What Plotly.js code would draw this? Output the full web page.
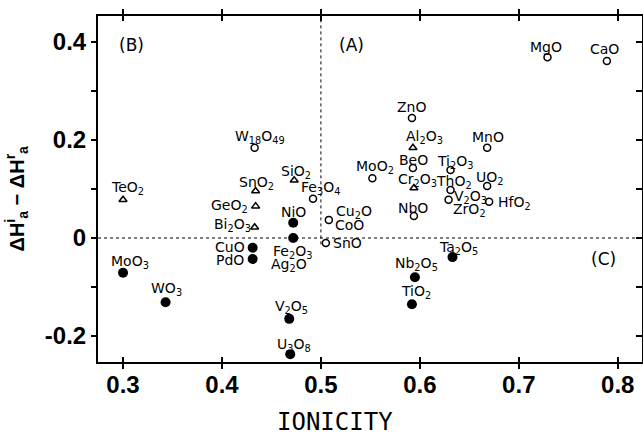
<!DOCTYPE html>
<html>
<head>
<meta charset="utf-8">
<script src="https://cdn.plot.ly/plotly-3.0.1.min.js"></script>
<style>html,body{margin:0;padding:0;background:#fff;}#chart{width:643px;height:435px;}</style>
</head>
<body>
<div id="chart"></div>
<script>
// ---- data ----
const openNames = ["W18O49","Fe3O4","Cu2O","SnO","MgO","CaO","ZnO","BeO","MoO2","MnO","Ti2O3","ThO2","V2O3","UO2","HfO2","NbO"];
const openIonicity = [0.433,0.492,0.508,0.505,0.729,0.789,0.592,0.593,0.552,0.668,0.631,0.631,0.629,0.668,0.670,0.594];
const openDH = [0.184,0.080,0.037,-0.010,0.369,0.361,0.245,0.143,0.122,0.184,0.139,0.098,0.078,0.106,0.074,0.045];

const triNames = ["TeO2","SnO2","GeO2","SiO2","Bi2O3","Al2O3","Cr2O3"];
const triIonicity = [0.300,0.434,0.434,0.473,0.433,0.593,0.594];
const triDH = [0.078,0.096,0.065,0.118,0.022,0.184,0.102];

const fillNames = ["NiO","Fe2O3","CuO","PdO","MoO3","WO3","V2O5","U3O8","Ta2O5","Nb2O5","TiO2"];
const fillIonicity = [0.472,0.472,0.431,0.431,0.300,0.343,0.468,0.469,0.633,0.595,0.592];
const fillDH = [0.031,0.000,-0.020,-0.043,-0.071,-0.131,-0.165,-0.237,-0.039,-0.080,-0.135];

const xTickVals = [0.3,0.4,0.5,0.6,0.7,0.8];
const xTickText = ["0.3","0.4","0.5","0.6","0.7","0.8"];
const yTickVals = [-0.2,0,0.2,0.4];
const yTickText = ["-0.2","0","0.2","0.4"];

// label text (with formula subscripts) per compound, and extra labels sharing a marker
const labelText = {
  W18O49:"W<sub>18</sub>O<sub>49</sub>", Fe3O4:"Fe<sub>3</sub>O<sub>4</sub>", Cu2O:"Cu<sub>2</sub>O", SnO:"SnO",
  MgO:"MgO", CaO:"CaO", ZnO:"ZnO", BeO:"BeO", MoO2:"MoO<sub>2</sub>", MnO:"MnO",
  Ti2O3:"Ti<sub>2</sub>O<sub>3</sub>", ThO2:"ThO<sub>2</sub>", V2O3:"V<sub>2</sub>O<sub>3</sub>", UO2:"UO<sub>2</sub>",
  HfO2:"HfO<sub>2</sub>", NbO:"NbO",
  TeO2:"TeO<sub>2</sub>", SnO2:"SnO<sub>2</sub>", GeO2:"GeO<sub>2</sub>", SiO2:"SiO<sub>2</sub>",
  Bi2O3:"Bi<sub>2</sub>O<sub>3</sub>", Al2O3:"Al<sub>2</sub>O<sub>3</sub>", Cr2O3:"Cr<sub>2</sub>O<sub>3</sub>",
  NiO:"NiO", Fe2O3:"Fe<sub>2</sub>O<sub>3</sub>", CuO:"CuO", PdO:"PdO", MoO3:"MoO<sub>3</sub>",
  WO3:"WO<sub>3</sub>", V2O5:"V<sub>2</sub>O<sub>5</sub>", U3O8:"U<sub>3</sub>O<sub>8</sub>",
  Ta2O5:"Ta<sub>2</sub>O<sub>5</sub>", Nb2O5:"Nb<sub>2</sub>O<sub>5</sub>", TiO2:"TiO<sub>2</sub>"
};
const extraLabels = [["Ag2O","Fe2O3","Ag<sub>2</sub>O"],["CoO","Cu2O","CoO"],["ZrO2","V2O3","ZrO<sub>2</sub>"]];

// ---- label placement (pixel offsets from marker) ----
const labelOffset = {
  W18O49:[5,11], Fe3O4:[7,11], Cu2O:[25,8], SnO:[22,0], MgO:[-2,10], CaO:[-2,12], ZnO:[0,11],
  BeO:[1,8], MoO2:[3,11], MnO:[1,11], Ti2O3:[5,8], ThO2:[3,8], V2O3:[22,3], UO2:[3,8], HfO2:[25,-1],
  NbO:[-1,8], TeO2:[4,12], SnO2:[1,8], GeO2:[-26,0], SiO2:[2,8], Bi2O3:[-22,2], Al2O3:[12,11],
  Cr2O3:[4,8], NiO:[0,11], Fe2O3:[-1,-14], CuO:[-23,1], PdO:[-23,-1], MoO3:[7,11], WO3:[1,13],
  V2O5:[2,12], U3O8:[4,9], Ta2O5:[6,9], Nb2O5:[2,13], TiO2:[4,12],
  Ag2O:[-4,-27], CoO:[21,-5], ZrO2:[21,-10]
};

const pos = {};
openNames.forEach((n,i)=>pos[n]=[openIonicity[i],openDH[i]]);
triNames.forEach((n,i)=>pos[n]=[triIonicity[i],triDH[i]]);
fillNames.forEach((n,i)=>pos[n]=[fillIonicity[i],fillDH[i]]);

const labelFont = {family:"DejaVu Sans, sans-serif", size:14, color:"#000"};
const annotations = [];
Object.keys(labelText).forEach(n=>{
  const o = labelOffset[n];
  annotations.push({x:pos[n][0], y:pos[n][1], xref:"x", yref:"y", text:labelText[n], showarrow:false,
    xshift:o[0], yshift:o[1], font:labelFont, xanchor:"center", yanchor:"middle"});
});
extraLabels.forEach(e=>{
  const o = labelOffset[e[0]];
  annotations.push({x:pos[e[1]][0], y:pos[e[1]][1], xref:"x", yref:"y", text:e[2], showarrow:false,
    xshift:o[0], yshift:o[1], font:labelFont, xanchor:"center", yanchor:"middle"});
});

// region labels
const regionFont = {family:"DejaVu Sans, sans-serif", size:17, color:"#000"};
annotations.push({x:0.309,y:0.394,xref:"x",yref:"y",text:"(B)",showarrow:false,font:regionFont,xanchor:"center",yanchor:"middle"});
annotations.push({x:0.531,y:0.394,xref:"x",yref:"y",text:"(A)",showarrow:false,font:regionFont,xanchor:"center",yanchor:"middle"});
annotations.push({x:0.786,y:-0.043,xref:"x",yref:"y",text:"(C)",showarrow:false,font:regionFont,xanchor:"center",yanchor:"middle"});

// axis titles
annotations.push({x:-0.148,y:0.474,xref:"paper",yref:"paper",textangle:-90,showarrow:false,
  xanchor:"center",yanchor:"middle",
  text:"ΔH<sup>i</sup><sub>a</sub> − ΔH<sup>r</sup><sub>a</sub>",
  font:{family:"Liberation Sans, Arial, sans-serif",size:20,weight:"bold",color:"#000"}});
annotations.push({x:0.436,y:-0.173,xref:"paper",yref:"paper",showarrow:false,text:"IONICITY",
  xanchor:"center",yanchor:"middle",
  font:{family:"DejaVu Sans Mono, monospace",size:24,color:"#000"}});

const traces = [
  {x:openIonicity,y:openDH,mode:"markers",type:"scatter",name:"open",
   marker:{symbol:"circle-open",size:7,color:"#000",line:{width:1.5,color:"#000"}}},
  {x:triIonicity,y:triDH,mode:"markers",type:"scatter",name:"tri",
   marker:{symbol:"triangle-up-open",size:7,color:"#000",line:{width:1.5,color:"#000"}}},
  {x:fillIonicity,y:fillDH,mode:"markers",type:"scatter",name:"filled",
   marker:{symbol:"circle",size:10,color:"#000"}},
  {x:[null],y:[null],yaxis:"y2",mode:"markers",showlegend:false,hoverinfo:"skip"}
];

const tickFont = {family:"Liberation Sans, Arial, sans-serif",size:24,weight:"bold",color:"#000"};
const yRange = [-0.253,0.453];
const layout = {
  width:643,height:435,
  margin:{l:98,r:1,t:16,b:73},
  paper_bgcolor:"#fff",plot_bgcolor:"#fff",
  showlegend:false,
  xaxis:{range:[0.2747,0.8245],tickvals:xTickVals,ticktext:xTickText,ticks:"inside",ticklen:5,
    tickwidth:1.5,tickcolor:"#000",showline:true,linewidth:2,linecolor:"#000",mirror:"allticks",
    showgrid:false,zeroline:false,tickfont:tickFont},
  yaxis:{range:yRange,tickvals:yTickVals,ticktext:yTickText,ticks:"outside",ticklen:5,tickwidth:1.5,
    tickcolor:"#000",showline:true,linewidth:2,linecolor:"#000",mirror:true,showgrid:false,zeroline:false,
    tickfont:tickFont,
    minor:{tickvals:[-0.1,0.1,0.3],ticks:"outside",ticklen:5,tickwidth:1.5,tickcolor:"#000"}},
  yaxis2:{overlaying:"y",side:"right",range:yRange,dtick:0.1,tick0:0,ticks:"inside",ticklen:6,
    tickwidth:1.5,tickcolor:"#000",showticklabels:false,showline:false,showgrid:false,zeroline:false},
  shapes:[
    {type:"line",xref:"paper",yref:"y",x0:0,x1:1,y0:0,y1:0,line:{color:"#000",width:1,dash:"dot"}},
    {type:"line",xref:"x",yref:"paper",x0:0.5,x1:0.5,y0:0.34,y1:1,line:{color:"#000",width:1,dash:"dot"}}
  ],
  annotations:annotations
};
Plotly.newPlot("chart",traces,layout,{displayModeBar:false,staticPlot:true});
</script>
</body>
</html>
